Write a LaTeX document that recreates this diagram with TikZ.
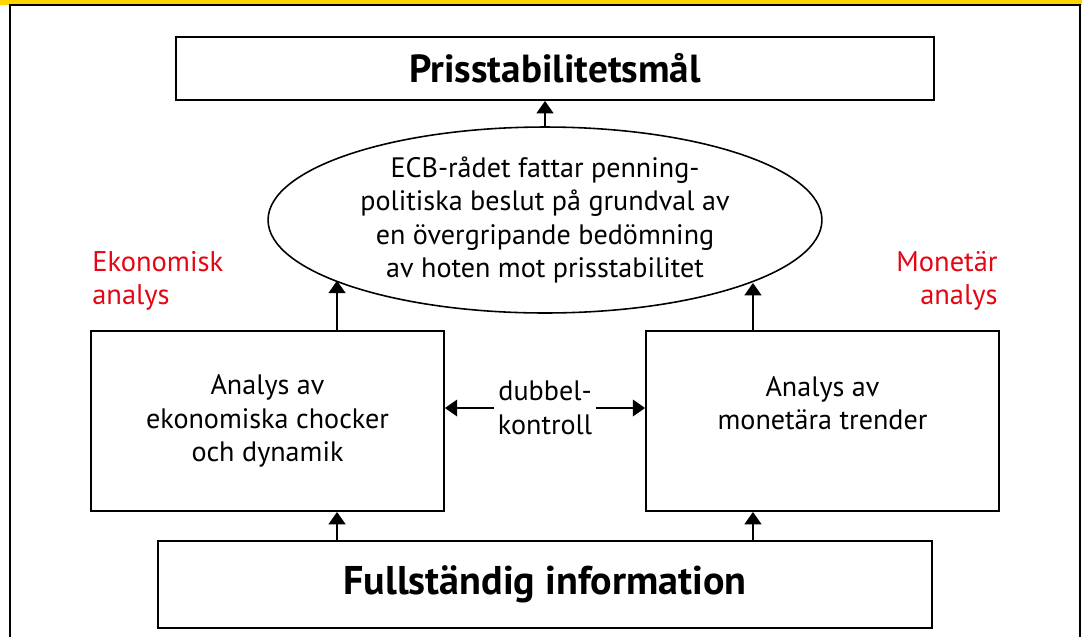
\documentclass[tikz,border=0pt]{standalone}
\usepackage{fontspec}
\setmainfont{PT Sans}
\usetikzlibrary{shapes.geometric,arrows.meta}
\definecolor{ecbred}{RGB}{227,6,19}
\definecolor{ecbyel}{RGB}{255,213,0}
\tikzset{
 bx/.style={rectangle,draw,line width=1.1pt,inner sep=0pt},
 el/.style={ellipse,draw,line width=0.9pt,inner sep=0pt,minimum width=11.08cm,minimum height=3.72cm},
 tx/.style={align=center,font=\fontsize{16}{19}\selectfont},
 hd/.style={font=\fontsize{22.3}{26}\selectfont\bfseries},
 rd/.style={text=ecbred,inner sep=0pt,font=\fontsize{16.2}{19}\selectfont},
 ar/.style={line width=1.1pt,-{Triangle[width=9.5pt,length=7pt]}}}

\begin{document}
\begin{tikzpicture}[x=0.02cm,y=-0.02cm]
 \useasboundingbox (0,0) rectangle (1082,637);
 \fill[ecbyel] (0,0) rectangle (1082,5);
 \draw[line width=1.1pt] (10,637) -- (10,5) -- (1080,5) -- (1080,637);
 \node[bx,hd,minimum width=15.16cm,minimum height=1.26cm] (goal) at (555,68.5) {Prisstabilitetsmål};
 \node[el,tx] (ecb) at (545,220) {ECB-rådet fattar penning-\\politiska beslut på grundval av\\en övergripande bedömning\\av hoten mot prisstabilitet};
 \node[bx,tx,minimum width=7.06cm,minimum height=3.6cm] (eko) at (267.5,421) {Analys av\\ekonomiska chocker\\och dynamik};
 \node[bx,minimum width=7.06cm,minimum height=3.6cm] (mon) at (822.5,421) {};
 \node[tx] (montx) at (822.5,403) {Analys av\\monetära trender};
 \node[bx,hd,font=\fontsize{22.8}{26}\selectfont\bfseries,minimum width=15.48cm,minimum height=1.74cm] (info) at (545,584.5) {Fullständig information};
 \node[tx,inner xsep=2pt] (dk) at (545,408) {dubbel-\\kontroll};
 \node[rd,align=left,anchor=west] (ekolb) at (92,281) {Ekonomisk\\analys};
 \node[rd,align=right,anchor=east] (monlb) at (998,281) {Monetär\\analys};
 \coordinate (a1) at ([xshift=-4.16cm]info.north);
 \coordinate (a2) at ([xshift=4.16cm]info.north);
 \draw[ar] (ecb.north) -- (ecb.north |- goal.south);
 \draw[ar] (a1) -- (a1 |- eko.south);
 \draw[ar] (a2) -- (a2 |- mon.south);
 \draw[ar] (a1 |- eko.north) -- (a1 |- ecb.196.5);
 \draw[ar] (a2 |- mon.north) -- (a2 |- ecb.343.5);
 \draw[ar] (dk.west) -- (dk.west -| eko.east);
 \draw[ar] (dk.east) -- (dk.east -| mon.west);
\end{tikzpicture}
\end{document}
